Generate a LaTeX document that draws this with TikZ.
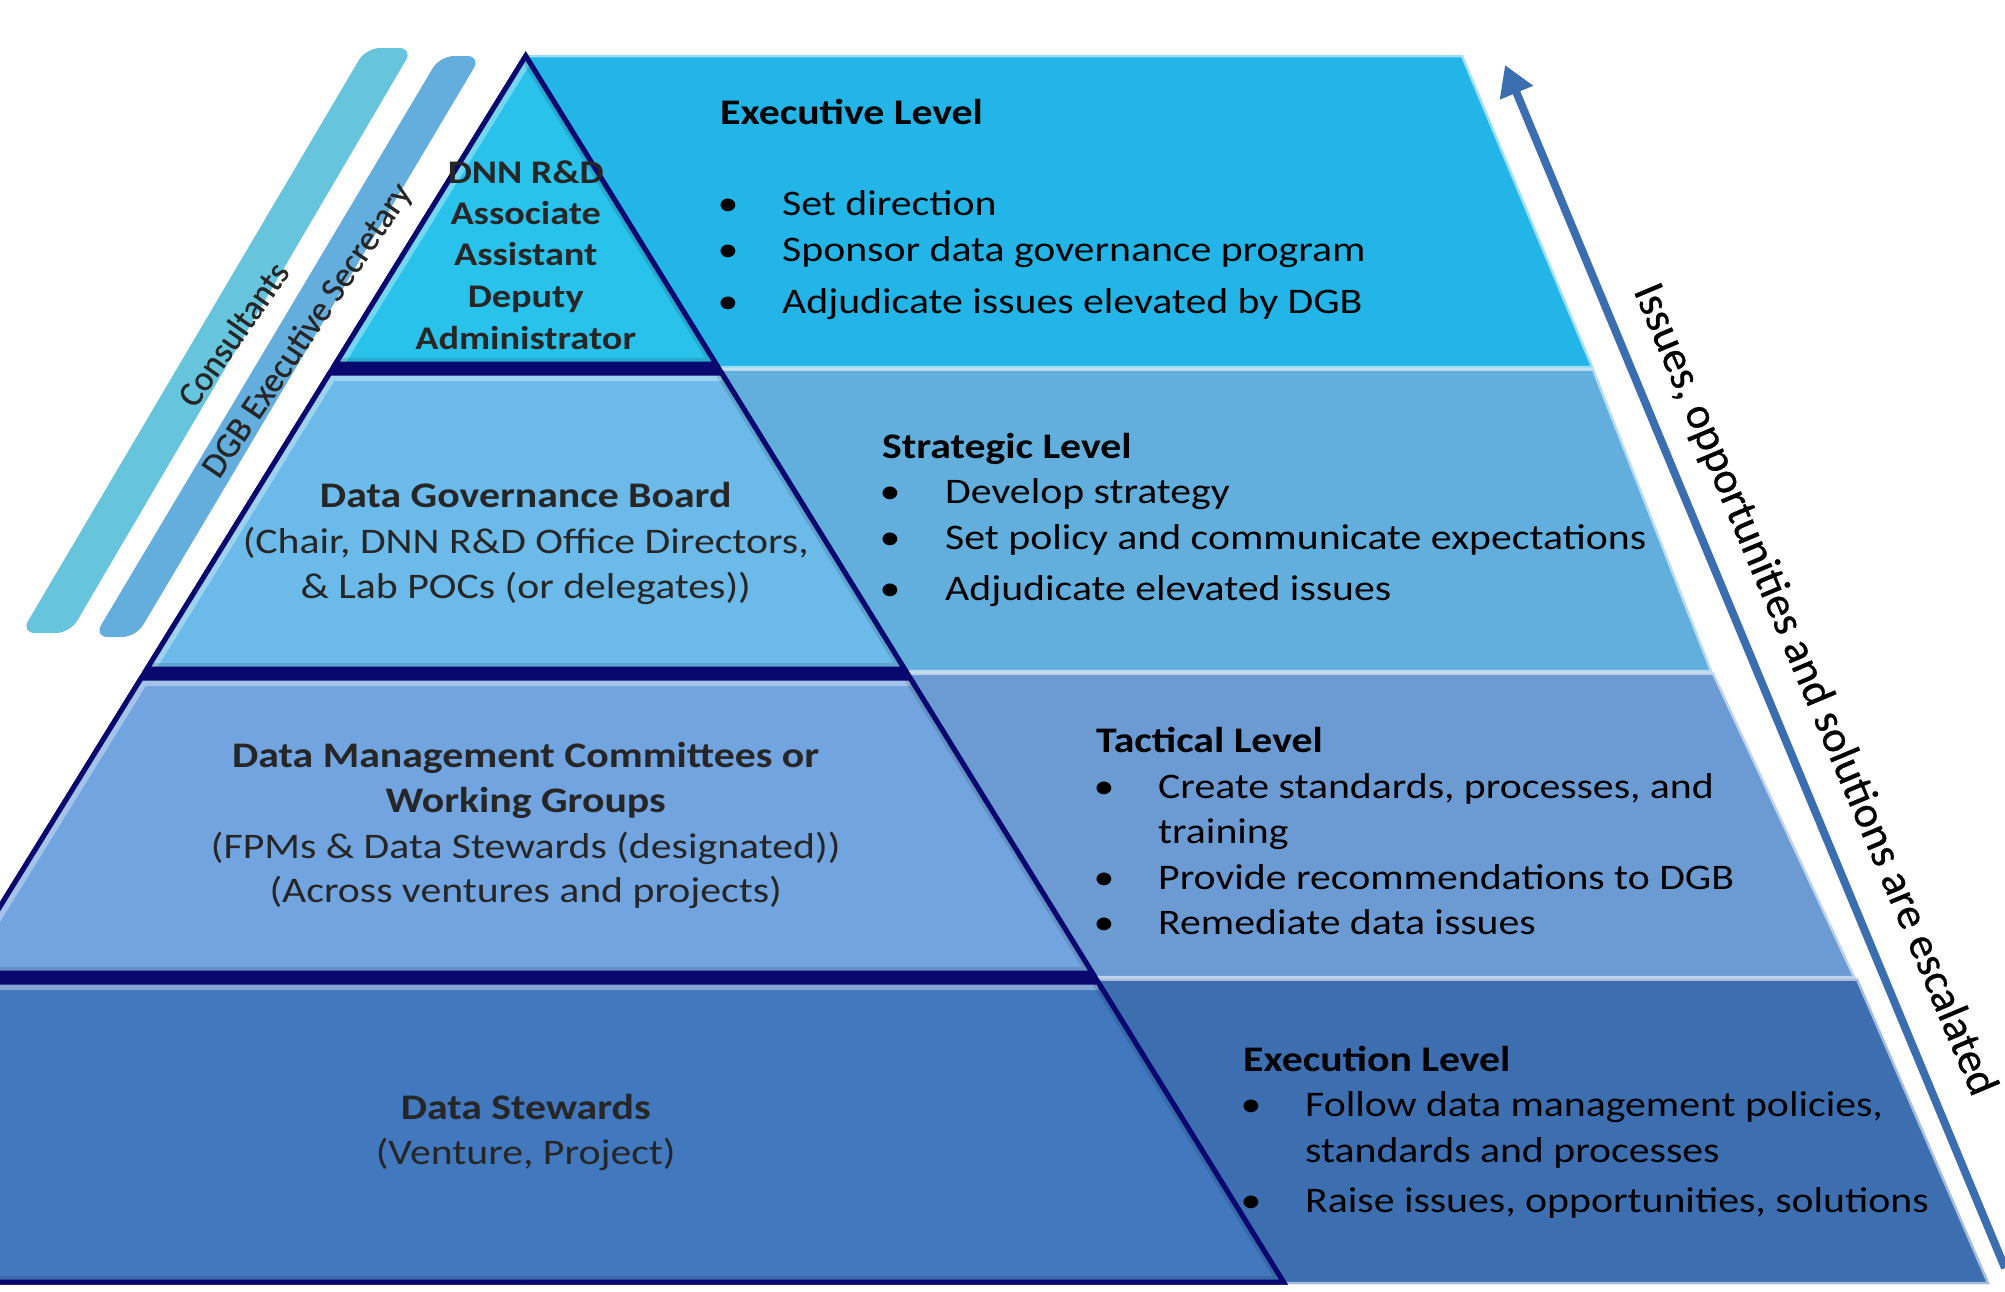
\documentclass[tikz,border=0pt]{standalone}
\usepackage{fontspec}
\setmainfont{Carlito}[FakeStretch=1.16]
\newfontfamily\sidefont{Carlito}[FakeBold=0.6]
\usetikzlibrary{arrows.meta}

% band (right panel) colours
\definecolor{bandExec}{RGB}{35,181,232}
\definecolor{bandStrat}{RGB}{98,174,220}
\definecolor{bandTact}{RGB}{108,155,211}
\definecolor{bandExecu}{RGB}{60,110,176}
% pyramid tier colours
\definecolor{tierA}{RGB}{41,194,234}
\definecolor{tierB}{RGB}{107,186,234}
\definecolor{tierC}{RGB}{114,164,224}
\definecolor{tierD}{RGB}{65,120,190}
\definecolor{navyedge}{RGB}{8,8,110}
% side bars, arrow, ink
\definecolor{barA}{RGB}{102,196,220}
\definecolor{barB}{RGB}{99,174,220}
\definecolor{escblue}{RGB}{58,110,176}
\definecolor{inkgray}{RGB}{38,38,38}

% one bevelled tier: fill, bottom-left, top-left, top-right, bottom-right
\newcommand\pyrtier[5]{%
  \fill[#1] #2 -- #3 -- #4 -- #5 -- cycle;
  \begin{scope}
    \clip #2 -- #3 -- #4 -- #5 -- cycle;
    \draw[bevlight] #2 -- #3 -- #4;
    \draw[bevdark] #4 -- #5 -- #2;
  \end{scope}
  \draw[tieredge] #2 -- #3 -- #4 -- #5 -- cycle;}

\begin{document}
\begin{tikzpicture}[x=1pt,y=-1pt,
  tieredge/.style={draw=navyedge, line width=5pt, line join=miter},
  bevlight/.style={draw=white, opacity=0.35, line width=16pt},
  bevdark/.style={draw=black, opacity=0.12, line width=12pt},
  lvltitle/.style={anchor=base west, inner sep=0pt, font=\fontsize{36}{44}\selectfont\bfseries},
  lvlitem/.style={anchor=base west, inner sep=0pt, font=\fontsize{36}{44}\selectfont},
  lvldot/.style={anchor=base, inner sep=0pt, font=\fontsize{36}{44}\selectfont},
  tierhead/.style={anchor=base, inner sep=0pt, text=inkgray, font=\fontsize{36}{44}\selectfont\bfseries},
  tierbody/.style={anchor=base, inner sep=0pt, text=inkgray, font=\fontsize{36}{44}\selectfont},
  apexhead/.style={anchor=base, inner sep=0pt, text=inkgray, font=\fontsize{33}{40}\selectfont\bfseries},
  barlabel/.style={inner sep=0pt, text=inkgray, font=\sidefont\fontsize{35}{40}\selectfont},
  esclabel/.style={inner sep=0pt, font=\sidefont\fontsize{44.5}{50}\selectfont, rotate=-67.2},
  escarrow/.style={draw=escblue, line width=8pt, -{Triangle[length=30pt,width=34pt]}}
]
\useasboundingbox (0,0) rectangle (2005,1291);
\clip (0,0) rectangle (2005,1291);

% ---- level bands behind the pyramid ----
\filldraw[fill=bandExec, draw=bandExec!45!white, line width=2.5pt]
  (525.7,56) -- (1462,56) -- (1592,367) -- (525.7,367) -- cycle;
\filldraw[fill=bandStrat, draw=bandStrat!45!white, line width=2.5pt]
  (525.7,369.5) -- (1593,369.5) -- (1711,671) -- (525.7,671) -- cycle;
\filldraw[fill=bandTact, draw=bandTact!45!white, line width=2.5pt]
  (525.7,673.5) -- (1713,673.5) -- (1854,977) -- (525.7,977) -- cycle;
\filldraw[fill=bandExecu, draw=bandExecu!45!white, line width=2.5pt]
  (525.7,979.5) -- (1857,979.5) -- (1988,1283) -- (525.7,1283) -- cycle;

% ---- pyramid: navy silhouette, then the four tiers ----
\filldraw[fill=navyedge, draw=navyedge, line width=5pt, line join=miter]
  (525.7,56) -- (1283.4,1282) -- (-232,1282) -- cycle;
\fill[tierA] (335.4,364) -- (525.7,56) -- (716,364) -- cycle;
\begin{scope}
  \clip (335.4,364) -- (525.7,56) -- (716,364) -- cycle;
  \draw[bevlight] (335.4,364) -- (525.7,56);
  \draw[bevdark] (525.7,56) -- (716,364) -- (335.4,364);
\end{scope}
\draw[tieredge] (335.4,364) -- (525.7,56) -- (716,364) -- cycle;
\pyrtier{tierB}{(146.9,669)}{(329.8,373)}{(721.6,373)}{(904.5,669)}
\pyrtier{tierC}{(-41,973)}{(141.3,678)}{(910.1,678)}{(1092.4,973)}
\pyrtier{tierD}{(-232,1282)}{(-46.6,982)}{(1098,982)}{(1283.4,1282)}

% ---- side bars ----
\fill[barA, rounded corners=14pt] (366,48) -- (413,48) -- (70,633) -- (21,633) -- cycle;
\fill[barB, rounded corners=14pt] (440,56) -- (481,56) -- (136,637) -- (94,637) -- cycle;
\node[barlabel, rotate=55] (consL) at (233,334) {Consultants};
\node[barlabel, rotate=56] (dgbL) at (308,331) {DGB Executive Secretary};

% ---- escalation arrow ----
\coordinate (escTail) at (2005,1268);
\coordinate (escTip) at (1505,65);
\draw[escarrow] (escTail) -- (escTip);
\node[esclabel] (escL) at (1814,690) {Issues, opportunities and solutions are escalated};

% ---- pyramid labels ----
\node[apexhead] (apx1) at (525.7,183) {DNN R\&D};
\node[apexhead] (apx2) at (525.7,224) {Associate};
\node[apexhead] (apx3) at (525.7,265) {Assistant};
\node[apexhead] (apx4) at (525.7,307) {Deputy};
\node[apexhead] (apx5) at (525.7,349) {Administrator};

\node[tierhead] (dgb1) at (525.7,507) {Data Governance Board};
\node[tierbody] (dgb2) at (525.7,553) {(Chair, DNN R\&D Office Directors,};
\node[tierbody] (dgb3) at (525.7,598) {\& Lab POCs (or delegates))};

\node[tierhead] (dmc1) at (525.7,767) {Data Management Committees or};
\node[tierhead] (dmc2) at (525.7,812) {Working Groups};
\node[tierbody] (dmc3) at (525.7,858) {(FPMs \& Data Stewards (designated))};
\node[tierbody] (dmc4) at (525.7,902) {(Across ventures and projects)};

\node[tierhead] (ds1) at (525.7,1119) {Data Stewards};
\node[tierbody] (ds2) at (525.7,1164) {(Venture, Project)};

% ---- level descriptions ----
\node[lvltitle] (execT) at (720,124) {Executive Level};
\node[lvldot] (execD1) at (728,215) {•};
\node[lvlitem] (execI1) at (782,215) {Set direction};
\node[lvldot] (execD2) at (728,261) {•};
\node[lvlitem] (execI2) at (782,261) {Sponsor data governance program};
\node[lvldot] (execD3) at (728,313) {•};
\node[lvlitem] (execI3) at (782,313) {Adjudicate issues elevated by DGB};

\node[lvltitle] (stratT) at (882,458) {Strategic Level};
\node[lvldot] (stratD1) at (890,503) {•};
\node[lvlitem] (stratI1) at (945,503) {Develop strategy};
\node[lvldot] (stratD2) at (890,549) {•};
\node[lvlitem] (stratI2) at (945,549) {Set policy and communicate expectations};
\node[lvldot] (stratD3) at (890,600) {•};
\node[lvlitem] (stratI3) at (945,600) {Adjudicate elevated issues};

\node[lvltitle] (tactT) at (1096,752) {Tactical Level};
\node[lvldot] (tactD1) at (1104,798) {•};
\node[lvlitem] (tactI1) at (1158,798) {Create standards, processes, and};
\node[lvlitem] (tactI1b) at (1158,843) {training};
\node[lvldot] (tactD2) at (1104,889) {•};
\node[lvlitem] (tactI2) at (1158,889) {Provide recommendations to DGB};
\node[lvldot] (tactD3) at (1104,934) {•};
\node[lvlitem] (tactI3) at (1158,934) {Remediate data issues};

\node[lvltitle] (exuT) at (1243,1071) {Execution Level};
\node[lvldot] (exuD1) at (1251,1116) {•};
\node[lvlitem] (exuI1) at (1305,1116) {Follow data management policies,};
\node[lvlitem] (exuI1b) at (1305,1162) {standards and processes};
\node[lvldot] (exuD2) at (1251,1212) {•};
\node[lvlitem] (exuI2) at (1305,1212) {Raise issues, opportunities, solutions};
\end{tikzpicture}
\end{document}
